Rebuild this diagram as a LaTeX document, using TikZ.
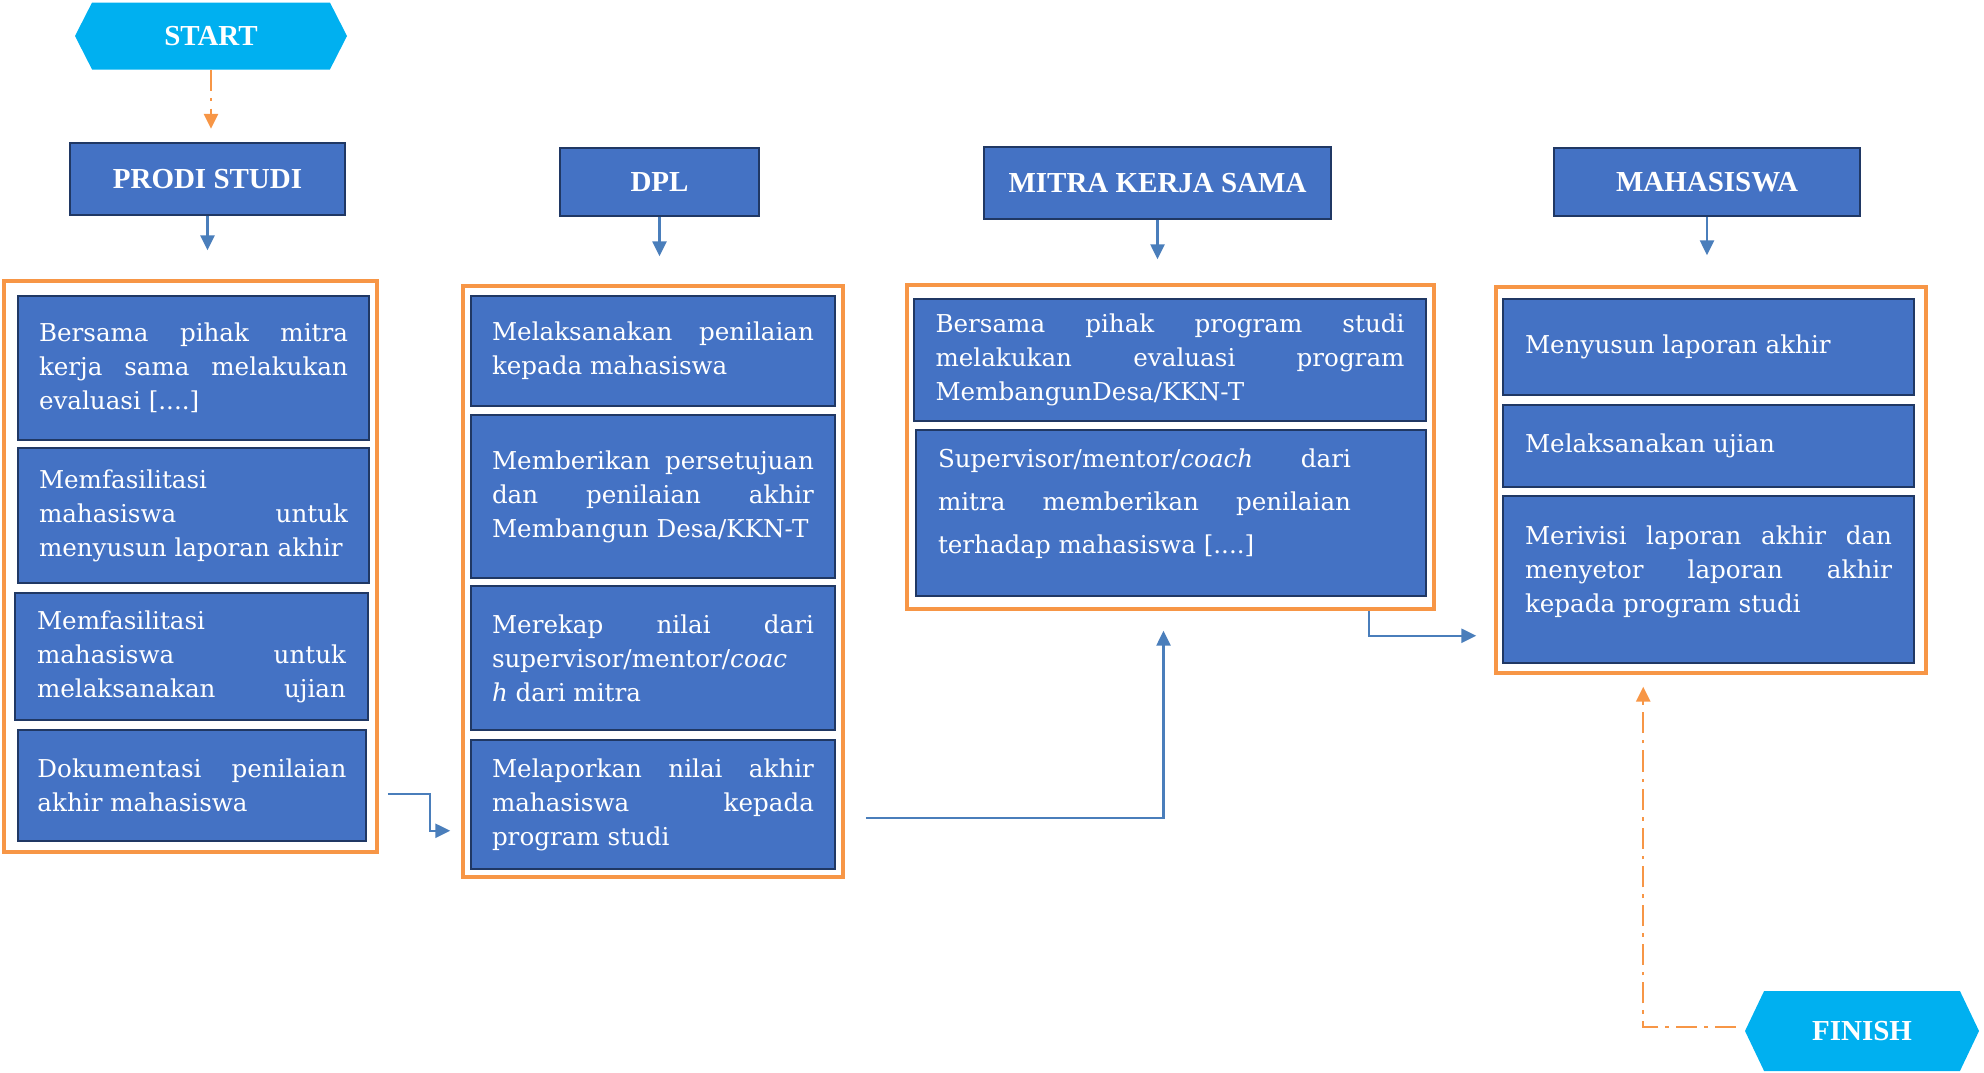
\documentclass[tikz,border=0pt]{standalone}
\usepackage{fontspec}
\setmainfont{DejaVu Serif}
\newfontfamily\headfont{Liberation Serif}
\usetikzlibrary{arrows.meta,shapes.symbols}

\definecolor{boxblue}{HTML}{4472C4}
\definecolor{boxedge}{HTML}{203864}
\definecolor{laneorange}{HTML}{F79646}
\definecolor{hexcyan}{HTML}{00B0F0}
\definecolor{linkblue}{HTML}{4A7EBB}

\newlength\px
\setlength\px{0.02cm}

\begin{document}
\begin{tikzpicture}[x=0.02cm, y=-0.02cm,
    hexnode/.style={signal, signal to=west and east, signal pointer angle=126, fill=hexcyan, text=white, inner sep=0pt, font=\headfont\fontsize{16.5}{18}\selectfont\bfseries},
    head/.style={draw=boxedge, fill=boxblue, line width=1.5pt, text=white, inner sep=0pt, font=\headfont\fontsize{16.5}{18}\selectfont\bfseries},
    lane/.style={draw=laneorange, line width=2pt, fill=white, inner sep=0pt},
    task/.style={draw=boxedge, fill=boxblue, line width=1.4pt, text=white, align=justify, inner sep=0pt, font=\fontsize{14}{19.3}\selectfont, execute at begin node={\hyphenpenalty=10000}},
    flow/.style={linkblue, line width=1.3pt, -{Triangle[length=8.5pt,width=8pt]}},
    dashflow/.style={laneorange, line width=1.4pt, dash pattern=on 12pt off 4pt on 2pt off 4pt, -{Triangle[length=8.5pt,width=8pt]}}
]
\useasboundingbox (0,0) rectangle (1984,1072);

% start / finish
\node[hexnode, minimum width=272\px, minimum height=67\px] (start) at (211,36) {START};
\node[hexnode, minimum width=234\px, minimum height=80\px, signal pointer angle=129] (finish) at (1862,1031) {FINISH};

% column heads
\node[head, minimum width=275\px, minimum height=72\px] (prodi) at (207.5,179) {PRODI STUDI};
\node[head, minimum width=199\px, minimum height=68\px] (dpl) at (659.5,182) {DPL};
\node[head, minimum width=347\px, minimum height=72\px] (mitra) at (1157.5,183) {MITRA KERJA SAMA};
\node[head, minimum width=306\px, minimum height=68\px] (mhs) at (1707,182) {MAHASISWA};

% orange lanes
\node[lane, minimum width=373\px, minimum height=571\px] (lbox) at (190.5,566.5) {};
\node[lane, minimum width=380\px, minimum height=591\px] (dbox) at (653,581.5) {};
\node[lane, minimum width=527\px, minimum height=324\px] (mbox) at (1170.5,447) {};
\node[lane, minimum width=430\px, minimum height=386\px] (sbox) at (1711,480) {};

% prodi studi tasks
\node[task, text width=309\px, minimum width=351\px, minimum height=144\px] (l1) at (193.5,368)
    {Bersama pihak mitra\linebreak kerja sama melakukan\linebreak evaluasi [....]};
\node[task, text width=309\px, minimum width=351\px, minimum height=135\px] (l2) at (193.5,515.5)
    {Memfasilitasi\\ mahasiswa untuk\linebreak menyusun laporan akhir};
\node[task, text width=309\px, minimum width=353\px, minimum height=127\px] (l3) at (191.5,656.5)
    {Memfasilitasi\\ mahasiswa untuk\linebreak melaksanakan\hfill ujian};
\node[task, text width=309\px, minimum width=348\px, minimum height=111\px] (l4) at (192,785.5)
    {Dokumentasi penilaian\linebreak akhir mahasiswa};

% dpl tasks
\node[task, text width=322\px, minimum width=364\px, minimum height=110\px] (d1) at (653,351)
    {Melaksanakan penilaian\linebreak kepada mahasiswa};
\node[task, text width=322\px, minimum width=364\px, minimum height=163\px] (d2) at (653,496.5)
    {Memberikan persetujuan\linebreak dan penilaian akhir\linebreak Membangun Desa/KKN-T};
\node[task, text width=322\px, minimum width=364\px, minimum height=144\px] (d3) at (653,658)
    {Merekap nilai dari\linebreak supervisor/mentor/\textit{coac}\\ \textit{h} dari mitra};
\node[task, text width=322\px, minimum width=364\px, minimum height=129\px] (d4) at (653,804.5)
    {Melaporkan nilai akhir\linebreak mahasiswa kepada\linebreak program studi};

% mitra tasks
\node[task, text width=469\px, minimum width=512\px, minimum height=122\px] (m1) at (1170,360)
    {Bersama pihak program studi\linebreak melakukan evaluasi program\linebreak MembangunDesa/KKN-T};
\node[task, text width=466\px, minimum width=510\px, minimum height=166\px, font=\fontsize{14}{24.4}\selectfont] (m2) at (1171,513)
    {\rightskip=53\px Supervisor/mentor/\textit{coach} dari\linebreak mitra memberikan penilaian\linebreak terhadap mahasiswa [....]\par\kern19\px};

% mahasiswa tasks
\node[task, text width=367\px, minimum width=411\px, minimum height=96\px] (s1) at (1708.5,347)
    {Menyusun laporan akhir};
\node[task, text width=367\px, minimum width=411\px, minimum height=82\px] (s2) at (1708.5,446)
    {Melaksanakan ujian};
\node[task, text width=367\px, minimum width=411\px, minimum height=167\px] (s3) at (1708.5,579.5)
    {Merivisi laporan akhir dan\linebreak menyetor laporan akhir\linebreak kepada program studi\par\kern15\px};

% head arrows
\draw[dashflow, shorten >=13\px] (start.south) -- (start.south |- prodi.north);
\draw[flow, shorten >=29\px] (prodi.south) -- (prodi.south |- lbox.north);
\draw[flow, shorten >=28\px] (dpl.south) -- (dpl.south |- dbox.north);
\draw[flow, shorten >=24\px] (mitra.south) -- (mitra.south |- mbox.north);
\draw[flow, shorten >=30\px] (mhs.south) -- (mhs.south |- sbox.north);

% lane to lane
\draw[flow] ([shift={(9,-60)}]lbox.south east) -- ++(42,0) |- ([shift={(-11,-48)}]dbox.south west);
\draw[flow] ([shift={(21,-61)}]dbox.south east) -| ([shift={(-7,20)}]mbox.south);
\draw[flow] ([shift={(-67,0)}]mbox.south east) |- ([shift={(-18,-39)}]sbox.south west);
\draw[dashflow] ([shift={(-9,-4)}]finish.west) -| ([shift={(149,12)}]sbox.south west);

\end{tikzpicture}
\end{document}
